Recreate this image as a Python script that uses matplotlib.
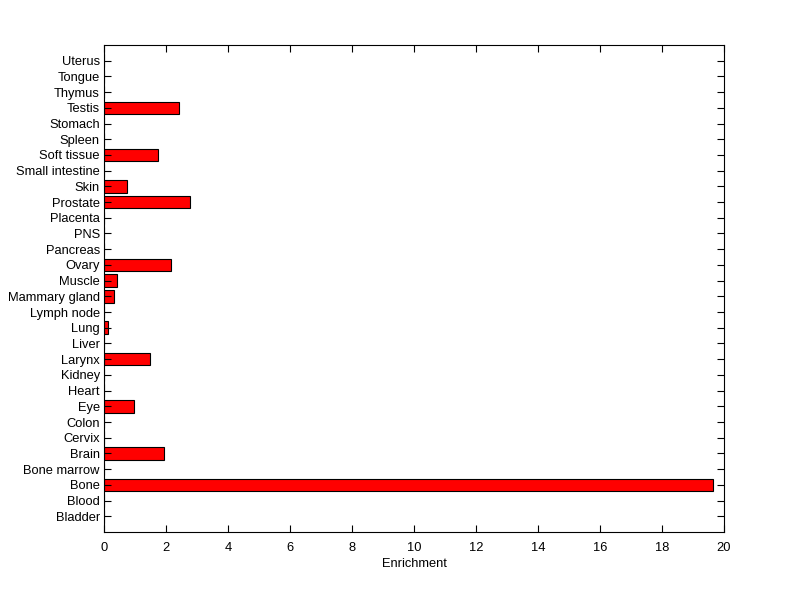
import matplotlib
matplotlib.use("Agg")
import matplotlib.pyplot as plt

categories = ["Bladder", "Blood", "Bone", "Bone marrow", "Brain", "Cervix", "Colon", "Eye",
              "Heart", "Kidney", "Larynx", "Liver", "Lung", "Lymph node", "Mammary gland",
              "Muscle", "Ovary", "Pancreas", "PNS", "Placenta", "Prostate", "Skin",
              "Small intestine", "Soft tissue", "Spleen", "Stomach", "Testis", "Thymus",
              "Tongue", "Uterus"]
values = [0, 0, 19.66, 0, 1.94, 0, 0, 0.97,
          0, 0, 1.48, 0, 0.13, 0, 0.32,
          0.42, 2.16, 0, 0, 0, 2.77, 0.74,
          0, 1.74, 0, 0, 2.42, 0,
          0, 0]
xticks = [0, 2, 4, 6, 8, 10, 12, 14, 16, 18, 20]

plt.rcParams['font.family'] = ['Liberation Sans', 'DejaVu Sans']
plt.rcParams['font.size'] = 9.3

fig = plt.figure(figsize=(8, 5.99), dpi=100)
ax = fig.add_axes([0.13, 0.1119, 0.775, 0.813])
pos = list(range(1, len(categories) + 1))
ax.barh(pos, values, height=0.8, color='#ff0000', edgecolor='black', linewidth=0.8)
ax.set_ylim(0, len(categories) + 1)
ax.set_xlim(0, 20)
ax.set_yticks(pos)
ax.set_yticklabels(categories)
ax.set_xticks(xticks)
ax.set_xlabel("Enrichment", labelpad=3)
ax.tick_params(axis='y', pad=3)
ax.tick_params(axis='x', pad=7)
ax.tick_params(direction='in', length=5, width=0.8, top=True, right=True, colors='black')
for s in ax.spines.values():
    s.set_linewidth(0.8)
fig.savefig("out.png", dpi=100)
